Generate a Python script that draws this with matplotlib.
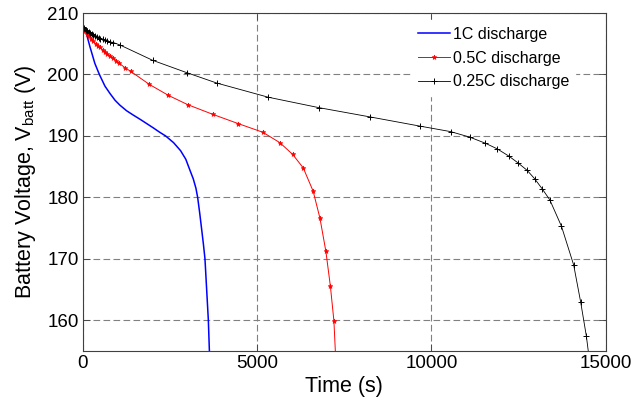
import numpy as np
import matplotlib.pyplot as plt

# discharge curves, time in s, voltage in V
t_1c = [0, 57, 200, 340, 470, 630, 775, 920, 1060, 1250, 1440, 1640, 1830,
        2020, 2200, 2370, 2600, 2800, 2950, 3070, 3165, 3240, 3290, 3350,
        3405, 3455, 3500, 3597, 3630]
v_1c = [207.8, 207.5, 204.5, 201.8, 200.0, 198.1, 196.9, 195.8, 195.0, 194.1,
        193.4, 192.7, 192.0, 191.3, 190.6, 190.0, 188.9, 187.6, 186.2, 184.4,
        183.0, 181.5, 180.0, 177.4, 174.8, 172.4, 170.0, 160.0, 154.5]

t_05c = [0, 60, 120, 180, 240, 300, 360, 420, 490, 560, 630, 700, 780, 870,
         960, 1045, 1205, 1370, 1900, 2450, 3000, 3730, 4455, 5160, 5650,
         6015, 6320, 6605, 6800, 6970, 7100, 7200, 7245]
v_05c = [207.6, 207.1, 206.6, 206.2, 205.8, 205.4, 205.0, 204.7, 204.4, 204.0,
         203.6, 203.3, 203.0, 202.7, 202.2, 201.8, 201.1, 200.5, 198.4, 196.6,
         195.1, 193.5, 192.0, 190.6, 188.9, 187.0, 184.8, 181.0, 176.6, 171.2,
         165.5, 159.9, 154.5]

t_025c = [0, 40, 80, 120, 160, 200, 250, 300, 350, 400, 450, 500, 560, 620,
          700, 780, 870, 1060, 2000, 2975, 3840, 5315, 6770, 8230, 9665, 10550,
          11100, 11550, 11885, 12225, 12485, 12745, 12965, 13175, 13395,
          13730, 14080, 14280, 14445, 14510]
v_025c = [207.7, 207.5, 207.3, 207.1, 206.95, 206.8, 206.6, 206.45, 206.3,
          206.15, 206.0, 205.85, 205.7, 205.55, 205.4, 205.3, 205.2, 204.8,
          202.3, 200.3, 198.6, 196.3, 194.6, 193.1, 191.6, 190.7, 189.8, 188.8,
          187.9, 186.7, 185.6, 184.4, 183.0, 181.4, 179.6, 175.3, 169.0,
          163.0, 157.4, 154.5]

x_ticks = [0, 5000, 10000, 15000]
y_ticks = [160, 170, 180, 190, 200, 210]

plt.rcParams['font.family'] = ['Liberation Sans', 'DejaVu Sans']
plt.rcParams['mathtext.fontset'] = 'custom'
plt.rcParams['mathtext.rm'] = 'Liberation Sans'

fig = plt.figure(figsize=(6.36, 4.03), dpi=100)
ax = fig.add_axes([0.1305, 0.129, 0.8219, 0.8387])

ax.plot(t_1c, v_1c, color='#0000ff', lw=1.1, label='1C discharge')
ax.plot(t_05c, v_05c, color='#ff0000', lw=0.7, marker='*', ms=3.5, mew=0.5,
        markevery=list(range(len(t_05c) - 1)), label='0.5C discharge')
ax.plot(t_025c, v_025c, color='k', lw=0.6, marker='+', ms=5, mew=0.7,
        markevery=list(range(len(t_025c) - 1)), label='0.25C discharge')

ax.set_xlim(0, 15000)
ax.set_ylim(155, 210)
ax.set_xticks(x_ticks)
ax.set_yticks(y_ticks)
ax.tick_params(direction='in', length=5, width=0.6, top=True, right=True,
               labelsize=13.5, pad=3, color='#404040')
for s in ax.spines.values():
    s.set_color('#404040')
    s.set_linewidth(0.8)

ax.grid(True, color='#808080', lw=0.8, linestyle=(0, (6, 3)))
ax.set_axisbelow(True)

ax.set_xlabel('Time (s)', fontsize=15.5, labelpad=3)
ax.set_ylabel(r'Battery Voltage, V$_{\mathregular{batt}}$ (V)', fontsize=15.5,
              labelpad=7)

leg = ax.legend(loc='upper left', bbox_to_anchor=(0.629, 0.978),
                borderaxespad=0, fontsize=11.5, frameon=True, fancybox=False,
                edgecolor='white', framealpha=1, handlelength=2.0,
                handletextpad=0.15, labelspacing=0.55)

fig.savefig('out.png', dpi=100)
